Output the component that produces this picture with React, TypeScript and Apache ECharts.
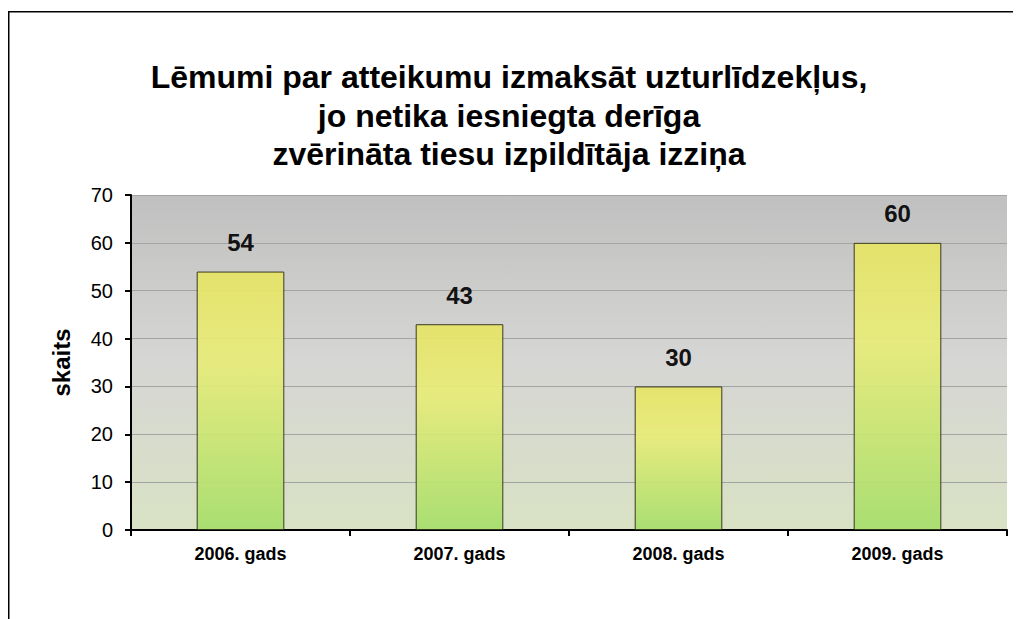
import React, { useEffect, useRef } from "react";
import * as echarts from "echarts";

const titleLines = [
  "Lēmumi par atteikumu izmaksāt uzturlīdzekļus,",
  "jo netika iesniegta derīga",
  "zvērināta tiesu izpildītāja izziņa",
];
const categories = ["2006. gads", "2007. gads", "2008. gads", "2009. gads"];
const values = [54, 43, 30, 60];
const yAxisName = "skaits";
const yMin = 0;
const yMax = 70;
const yInterval = 10;

export default function App() {
  const ref = useRef<HTMLDivElement>(null);
  useEffect(() => {
    if (!ref.current) return;
    const chart = echarts.init(ref.current, undefined, { renderer: "svg" });
    const font = "'Liberation Sans', Arial, sans-serif";
    chart.setOption({
      animation: false,
      backgroundColor: "#ffffff",
      textStyle: { fontFamily: font },
      graphic: [
        {
          type: "text",
          x: 501,
          y: 50,
          silent: true,
          style: {
            text: titleLines.join("\n"),
            font: `bold 32px ${font}`,
            fill: "#000",
            align: "center",
            verticalAlign: "top",
            lineHeight: 38.5,
          },
        },
        {
          type: "rect",
          shape: { x: 0.75, y: 3.75, width: 1100, height: 1000 },
          style: { fill: "none", stroke: "#000", lineWidth: 1.5 },
          z: 100,
          silent: true,
        },
      ],
      grid: {
        left: 123,
        top: 187,
        right: 14,
        bottom: 89,
        show: true,
        borderWidth: 0,
        backgroundColor: new echarts.graphic.LinearGradient(0, 0, 0, 1, [
          { offset: 0, color: "#c0c0c0" },
          { offset: 0.5, color: "#d6d6d4" },
          { offset: 1, color: "#d9e2c4" },
        ]),
      },
      xAxis: {
        type: "category",
        data: categories,
        axisLine: { lineStyle: { color: "#000", width: 2 } },
        axisTick: { show: true, length: 6, lineStyle: { color: "#000", width: 2 } },
        axisLabel: {
          color: "#000",
          fontFamily: font,
          fontSize: 18,
          fontWeight: "bold",
          margin: 15,
        },
      },
      yAxis: {
        type: "value",
        min: yMin,
        max: yMax,
        interval: yInterval,
        name: yAxisName,
        nameLocation: "middle",
        nameGap: 58,
        nameRotate: 90,
        nameTextStyle: {
          color: "#000",
          fontFamily: font,
          fontSize: 24,
          fontWeight: "bold",
        },
        axisLine: { show: true, lineStyle: { color: "#000", width: 2 } },
        axisTick: { show: true, length: 6, lineStyle: { color: "#000", width: 2 } },
        axisLabel: {
          color: "#000",
          fontFamily: font,
          fontSize: 20,
          margin: 18,
        },
        splitLine: { show: true, lineStyle: { color: "#a4a4a4", width: 1 } },
      },
      series: [
        {
          type: "bar",
          data: values,
          barWidth: "40%",
          itemStyle: {
            opacity: 0.93,
            borderColor: "#2e2e1a",
            borderWidth: 1,
            color: new echarts.graphic.LinearGradient(0, 0, 0, 1, [
              { offset: 0, color: "#e6e466" },
              { offset: 0.35, color: "#e8ec78" },
              { offset: 1, color: "#a6de6c" },
            ]),
          },
          label: {
            show: true,
            position: "top",
            distance: 17,
            color: "#000",
            fontFamily: font,
            fontSize: 24,
            fontWeight: "bold",
          },
        },
      ],
    });
    return () => chart.dispose();
  }, []);
  return <div ref={ref} style={{ width: 1013, height: 611 }} />;
}
